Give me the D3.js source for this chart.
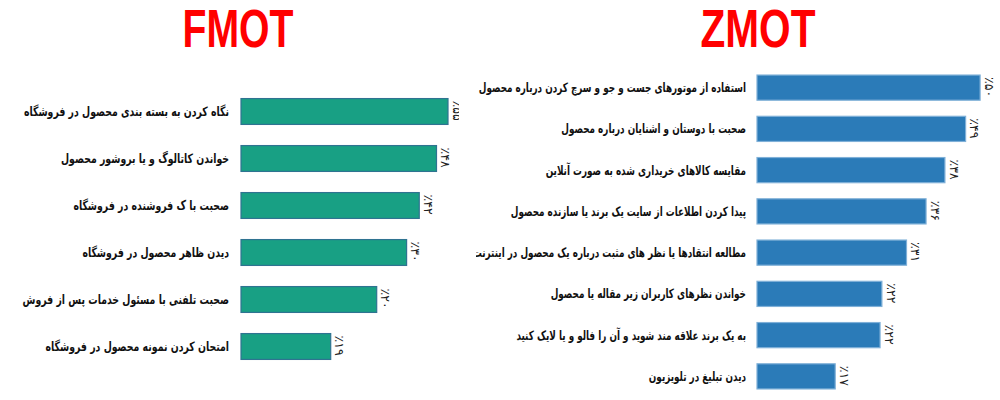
<!DOCTYPE html>
<html>
<head>
<meta charset="utf-8">
<script src="https://cdn.jsdelivr.net/npm/d3@7"></script>
<style>
  body { margin: 0; background: #fff; }
  svg { display: block; }
</style>
</head>
<body>
<svg id="chart" width="1000" height="400"></svg>
<script>
// FMOT (left) categories, bar values and value labels
var fmotCategories = [
  "نگاه کردن به بسته بندی محصول در فروشگاه",
  "خواندن کاتالوگ و یا بروشور محصول",
  "صحبت با ک فروشنده در فروشگاه",
  "دیدن ظاهر محصول در فروشگاه",
  "صحبت تلفنی با مسئول خدمات پس از فروش",
  "امتحان کردن نمونه محصول در فروشگاه"
];
var fmotValues = [90, 85, 77.5, 72, 59, 39];
var fmotLabels = ["٪۵۵", "٪۴۸", "٪۴۲", "٪۳۰", "٪۲۰", "٪۱۹"];

// ZMOT (right)
var zmotCategories = [
  "استفاده از موتورهای جست و جو و سرچ کردن درباره محصول",
  "صحبت با دوستان و اشنایان درباره محصول",
  "مقایسه کالاهای خریداری شده به صورت آنلاین",
  "پیدا کردن اطلاعات از سایت یک برند یا سازنده محصول",
  "مطالعه انتقادها یا نظر های مثبت درباره یک محصول در اینترنت",
  "خواندن نظرهای کاربران زیر مقاله یا محصول",
  "به یک برند علاقه مند شوید و آن را فالو و یا لایک کنید",
  "دیدن تبلیغ در تلویزیون"
];
var zmotValues = [97, 90.7, 81.7, 73.5, 65, 54.3, 53.5, 34];
var zmotLabels = ["٪۵۰", "٪۴۹", "٪۳۸", "٪۳۶", "٪۳۱", "٪۲۲", "٪۲۲", "٪۱۷"];

var svg = d3.select("#chart");

var x = d3.scaleLinear().domain([0, 100]).range([0, 230]);

var defs = svg.append("defs");
defs.append("clipPath").attr("id", "clipLeft")
  .append("rect").attr("x", 0).attr("y", 0).attr("width", 459).attr("height", 400);
defs.append("clipPath").attr("id", "clipRight")
  .append("rect").attr("x", 476).attr("y", 0).attr("width", 524).attr("height", 400);

function panel(opts) {
  var y = d3.scaleBand()
    .domain(opts.categories)
    .range(opts.yRange)
    .paddingInner(opts.pad)
    .paddingOuter(opts.pad / 2);

  var g = svg.append("g").attr("clip-path", "url(#" + opts.clip + ")");

  svg.append("text")
    .attr("x", opts.titleX)
    .attr("y", 47)
    .attr("text-anchor", "middle")
    .attr("textLength", opts.titleW)
    .attr("lengthAdjust", "spacingAndGlyphs")
    .style("font-family", "'Liberation Sans', Arial, sans-serif")
    .style("font-weight", "bold")
    .style("font-size", "53px")
    .style("fill", "#ff0000")
    .text(opts.title);

  g.selectAll("rect.bar")
    .data(opts.values)
    .enter().append("rect")
    .attr("class", "bar")
    .attr("x", opts.x0)
    .attr("y", function(d, i) { return y(opts.categories[i]); })
    .attr("width", function(d) { return x(d); })
    .attr("height", y.bandwidth())
    .style("fill", opts.fill)
    .style("stroke", opts.stroke)
    .style("stroke-width", 1.2);

  // category labels, squeezed to match the narrow original face
  g.selectAll("text.cat")
    .data(opts.categories)
    .enter().append("text")
    .attr("class", "cat")
    .attr("transform", function(d) {
      return "translate(" + opts.labelX + "," + (y(d) + y.bandwidth() / 2) + ") scale(" + opts.squeeze + ",1)";
    })
    .attr("dy", "0.35em")
    .attr("direction", "rtl")
    .attr("text-anchor", "start")
    .style("font-family", "'DejaVu Sans', sans-serif")
    .style("font-weight", "bold")
    .style("font-size", opts.fontSize + "px")
    .style("fill", "#111")
    .text(function(d) { return d; });

  g.selectAll("text.val")
    .data(opts.labels)
    .enter().append("text")
    .attr("class", "val")
    .attr("transform", function(d, i) {
      var cx = opts.x0 + x(opts.values[i]) + 9;
      var cy = y(opts.categories[i]) + 2;
      return "translate(" + cx + "," + cy + ") rotate(90)";
    })
    .attr("dy", "0.35em")
    .style("font-family", "'DejaVu Sans', sans-serif")
    .style("font-size", "12.5px")
    .style("fill", "#222")
    .text(function(d) { return d; });
}

panel({
  title: "FMOT", titleX: 238, titleW: 111,
  categories: fmotCategories, values: fmotValues, labels: fmotLabels,
  yRange: [88, 370], pad: 0.45,
  x0: 241, labelX: 229, fontSize: 13, squeeze: 0.72,
  fill: "#18a084", stroke: "#2f7391", clip: "clipLeft"
});

panel({
  title: "ZMOT", titleX: 758, titleW: 115,
  categories: zmotCategories, values: zmotValues, labels: zmotLabels,
  yRange: [67, 397], pad: 0.39,
  x0: 757, labelX: 746, fontSize: 13, squeeze: 0.68,
  fill: "#2b7bb8", stroke: "#7fb0d8", clip: "clipRight"
});
</script>
</body>
</html>
